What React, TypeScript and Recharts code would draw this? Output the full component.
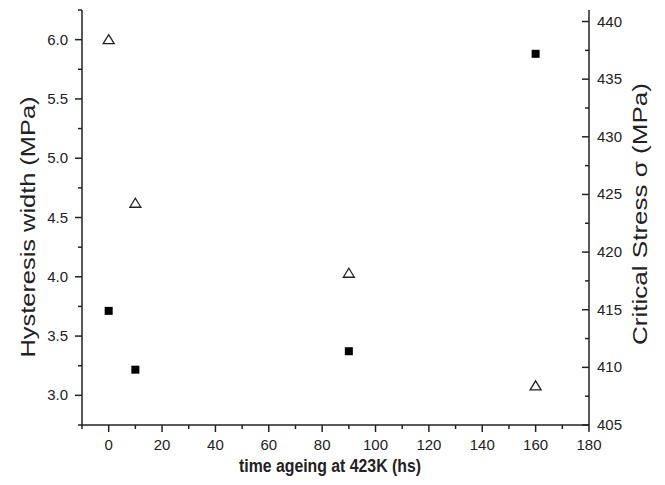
import { ScatterChart, Scatter, XAxis, YAxis } from 'recharts';

const times = [0, 10, 90, 160];
const hysteresisWidth = [6.0, 4.62, 4.03, 3.08];
const criticalStress = [414.9, 409.8, 411.4, 437.2];

const xTicks = [-10, 0, 10, 20, 30, 40, 50, 60, 70, 80, 90, 100, 110, 120, 130, 140, 150, 160, 170, 180];
const leftTicks = [2.75, 3.0, 3.25, 3.5, 3.75, 4.0, 4.25, 4.5, 4.75, 5.0, 5.25, 5.5, 5.75, 6.0, 6.25];
const rightTicks = [405, 407.5, 410, 412.5, 415, 417.5, 420, 422.5, 425, 427.5, 430, 432.5, 435, 437.5, 440];

const INK = '#222';
const FONT = '"Liberation Sans", Arial, sans-serif';

const widthData = times.map((t, i) => ({ t, v: hysteresisWidth[i] }));
const stressData = times.map((t, i) => ({ t, v: criticalStress[i] }));

function XTick(props: any) {
  const { x, y, payload } = props;
  const major = payload.value % 20 === 0;
  return (
    <g>
      <line x1={x} x2={x} y1={y} y2={y + (major ? 7 : 4)} stroke={INK} strokeWidth={1.5} />
      {major && (
        <text x={x} y={y + 25} textAnchor="middle" fontSize={15} fill={INK} fontFamily={FONT}>
          {payload.value}
        </text>
      )}
    </g>
  );
}

function LeftTick(props: any) {
  const { x, y, payload } = props;
  const v = payload.value;
  const major = Math.abs(v * 2 - Math.round(v * 2)) < 1e-6;
  return (
    <g>
      <line x1={x} x2={x - (major ? 7 : 4)} y1={y} y2={y} stroke={INK} strokeWidth={1.5} />
      {major && (
        <text x={x - 14} y={y + 5} textAnchor="end" fontSize={15} fill={INK} fontFamily={FONT}>
          {v.toFixed(1)}
        </text>
      )}
    </g>
  );
}

function RightTick(props: any) {
  const { x, y, payload } = props;
  const v = payload.value;
  const major = v % 5 === 0;
  return (
    <g>
      <line x1={x} x2={x - (major ? 7 : 4)} y1={y} y2={y} stroke={INK} strokeWidth={1.5} />
      {major && (
        <text x={x + 8} y={y + 5} textAnchor="start" fontSize={15} fill={INK} fontFamily={FONT}>
          {v}
        </text>
      )}
    </g>
  );
}

function Triangle(props: any) {
  const { cx, cy } = props;
  return (
    <path
      d={`M${cx},${cy - 5} L${cx + 5.5},${cy + 4} L${cx - 5.5},${cy + 4} Z`}
      fill="#fff"
      stroke={INK}
      strokeWidth={1.3}
    />
  );
}

function Square(props: any) {
  const { cx, cy } = props;
  return <rect x={cx - 4} y={cy - 4} width={8} height={8} fill="#000" />;
}

export default function App() {
  return (
    <div style={{ position: 'absolute', left: 0, top: 0, width: 665, height: 485, background: '#fff' }}>
      <ScatterChart width={665} height={485} margin={{ top: 10, right: 0, bottom: 0, left: 0 }}>
        <XAxis
          type="number"
          dataKey="t"
          domain={[-10, 180]}
          ticks={xTicks}
          interval={0}
          height={60}
          allowDataOverflow
          axisLine={{ stroke: INK, strokeWidth: 1.5 }}
          tickLine={false}
          tickSize={0}
          tickMargin={0}
          tick={<XTick />}
        />
        <YAxis
          yAxisId="left"
          type="number"
          dataKey="v"
          domain={[2.75, 6.25]}
          ticks={leftTicks}
          interval={0}
          width={82}
          allowDataOverflow
          axisLine={{ stroke: INK, strokeWidth: 1.5 }}
          tickLine={false}
          tickSize={0}
          tickMargin={0}
          tick={<LeftTick />}
        />
        <YAxis
          yAxisId="right"
          orientation="right"
          type="number"
          dataKey="v"
          domain={[405, 441]}
          ticks={rightTicks}
          interval={0}
          width={76}
          allowDataOverflow
          axisLine={{ stroke: INK, strokeWidth: 1.5 }}
          tickLine={false}
          tickSize={0}
          tickMargin={0}
          tick={<RightTick />}
        />
        <Scatter yAxisId="left" data={widthData} shape={<Triangle />} isAnimationActive={false} />
        <Scatter yAxisId="right" data={stressData} shape={<Square />} isAnimationActive={false} />
        <text
          x={0}
          y={0}
          transform="translate(35,227) rotate(-90)"
          textAnchor="middle"
          fontSize={20}
          fill={INK}
          fontFamily={FONT}
          textLength={261}
          lengthAdjust="spacingAndGlyphs"
        >
          Hysteresis width (MPa)
        </text>
        <text
          x={0}
          y={0}
          transform="translate(647,214) rotate(-90)"
          textAnchor="middle"
          fontSize={20}
          fill={INK}
          fontFamily={FONT}
          textLength={262}
          lengthAdjust="spacingAndGlyphs"
        >
          Critical Stress σ (MPa)
        </text>
        <text
          x={330}
          y={472}
          textAnchor="middle"
          fontSize={18}
          fontWeight="bold"
          fill={INK}
          fontFamily={FONT}
          textLength={182}
          lengthAdjust="spacingAndGlyphs"
        >
          time ageing at 423K (hs)
        </text>
      </ScatterChart>
    </div>
  );
}
